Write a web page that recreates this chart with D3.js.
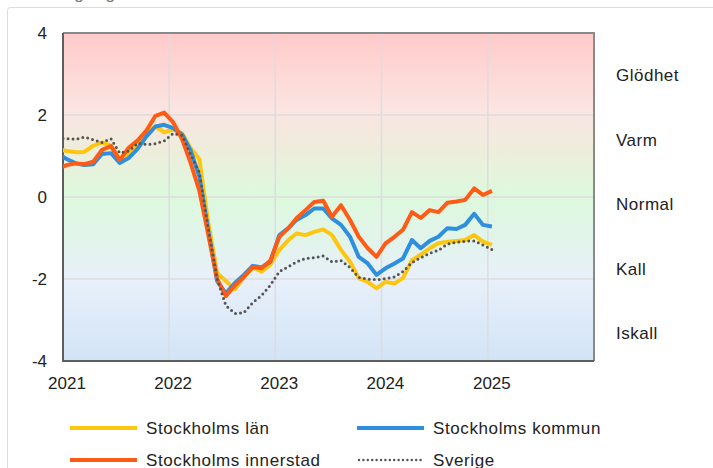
<!DOCTYPE html>
<html lang="sv">
<head>
    <meta charset="UTF-8">
    <title>Stämningsläge</title>
    <script src="https://cdn.jsdelivr.net/npm/d3@7"></script>
    <style>
        body {
            margin: 0;
            background: white;
        }
        text {
            font-family: "Liberation Sans", Arial, sans-serif;
            fill: #222;
        }
    </style>
</head>
<body>
<script>
    const width  = 713;
    const height = 468;

    // Plot area (pixels)
    const plotLeft = 63, plotRight = 594, plotTop = 33, plotBottom = 361;

    // Monthly readings, first value is Dec 2020 (clipped at the axis)
    const firstMonth = new Date(2020, 11, 15);

    const lan = [1.17, 1.12, 1.09, 1.10, 1.25, 1.33, 1.25, 0.92, 1.05, 1.32,
                 1.55, 1.72, 1.58, 1.65, 1.55, 1.20, 0.92, -0.60, -1.85, -2.05,
                 -2.25, -1.95, -1.72, -1.82, -1.65, -1.29, -1.05, -0.89, -0.93, -0.85,
                 -0.79, -0.93, -1.29, -1.58, -1.98, -2.07, -2.23, -2.07, -2.11, -1.98,
                 -1.54, -1.41, -1.25, -1.13, -1.09, -1.07, -1.05, -0.93, -1.09, -1.17];

    const kommun = [1.05, 0.92, 0.82, 0.78, 0.80, 1.05, 1.07, 0.83, 0.95, 1.18,
                    1.48, 1.72, 1.76, 1.68, 1.52, 1.15, 0.50, -0.80, -2.05, -2.35,
                    -2.10, -1.90, -1.68, -1.72, -1.58, -0.93, -0.76, -0.56, -0.44, -0.28,
                    -0.28, -0.52, -0.68, -0.97, -1.46, -1.62, -1.90, -1.74, -1.62, -1.50,
                    -1.05, -1.25, -1.07, -0.97, -0.76, -0.78, -0.68, -0.41, -0.68, -0.72];

    const innerstad = [0.70, 0.78, 0.82, 0.80, 0.86, 1.15, 1.24, 0.90, 1.20, 1.38,
                       1.62, 1.98, 2.06, 1.82, 1.40, 0.85, 0.15, -0.90, -2.00, -2.42,
                       -2.15, -1.95, -1.71, -1.74, -1.55, -0.97, -0.76, -0.52, -0.32, -0.12,
                       -0.09, -0.48, -0.20, -0.56, -0.97, -1.25, -1.46, -1.13, -0.97, -0.80,
                       -0.37, -0.51, -0.32, -0.37, -0.14, -0.11, -0.07, 0.21, 0.05, 0.15];

    const sverige = [1.43, 1.42, 1.41, 1.46, 1.40, 1.33, 1.42, 1.07, 1.12, 1.31,
                     1.28, 1.30, 1.37, 1.55, 1.50, 1.05, 0.60, -0.75, -2.00, -2.65,
                     -2.84, -2.82, -2.58, -2.40, -2.15, -1.82, -1.70, -1.58, -1.50, -1.48,
                     -1.44, -1.58, -1.55, -1.72, -1.96, -2.00, -2.02, -1.99, -1.95, -1.82,
                     -1.60, -1.48, -1.37, -1.30, -1.15, -1.10, -1.08, -1.07, -1.17, -1.28];

    const yTicks = [4, 2, 0, -2, -4];
    const yearTicks = [2021, 2022, 2023, 2024, 2025];
    const moodLabels = ["Glödhet", "Varm", "Normal", "Kall", "Iskall"];

    const series = [
        {name: "Stockholms län",       values: lan,       color: "#ffc610", dotted: false},
        {name: "Stockholms kommun",    values: kommun,    color: "#2e8fde", dotted: false},
        {name: "Stockholms innerstad", values: innerstad, color: "#ff5b14", dotted: false},
        {name: "Sverige",              values: sverige,   color: "#555555", dotted: true}
    ];

    const months = lan.map((d, i) => d3.timeMonth.offset(firstMonth, i));

    const x = d3.scaleTime()
                .domain([new Date(2021, 0, 1), new Date(2026, 0, 1)])
                .range([plotLeft, plotRight]);

    const y = d3.scaleLinear()
                .domain([-4, 4])
                .range([plotBottom, plotTop]);

    const mood = d3.scaleBand()
                   .domain(moodLabels)
                   .range([43, 365]);

    const svg = d3.select("body").append("svg")
                  .attr("width", width).attr("height", height);

    // outer frame (runs off the picture)
    svg.append("rect")
       .attr("x", 7.5).attr("y", 7.5)
       .attr("width", width).attr("height", height)
       .attr("rx", 3)
       .attr("fill", "white")
       .attr("stroke", "#dcdcdc");

    // title, cut off at the top
    svg.append("text")
       .attr("x", 12).attr("y", -1)
       .style("font-size", "17px")
       .style("fill", "#777")
       .text("Stämningsläge");

    const defs = svg.append("defs");

    const grad = defs.append("linearGradient")
                     .attr("id", "bg")
                     .attr("gradientUnits", "userSpaceOnUse")
                     .attr("x1", 0).attr("x2", 0)
                     .attr("y1", plotTop).attr("y2", plotBottom);

    const stops = [[4, "#ffcaca"], [2.1, "#fbe5e2"], [1.1, "#eeeddc"], [0.1, "#ddf9dc"],
                   [-1, "#e1f4ea"], [-2, "#e8f0fa"], [-4, "#d2e4f6"]];
    grad.selectAll("stop")
        .data(stops)
        .join("stop")
          .attr("offset", d => (y(d[0]) - plotTop) / (plotBottom - plotTop))
          .attr("stop-color", d => d[1]);

    defs.append("clipPath").attr("id", "plot")
        .append("rect")
          .attr("x", plotLeft).attr("y", plotTop)
          .attr("width", plotRight - plotLeft).attr("height", plotBottom - plotTop);

    svg.append("rect")
       .attr("x", plotLeft).attr("y", plotTop)
       .attr("width", plotRight - plotLeft).attr("height", plotBottom - plotTop)
       .attr("fill", "url(#bg)");

    // grid lines
    svg.append("g")
       .selectAll("line")
       .data([2, 0, -2])
       .join("line")
         .attr("x1", plotLeft).attr("x2", plotRight)
         .attr("y1", d => y(d)).attr("y2", d => y(d))
         .attr("stroke", "#dddddd")
         .attr("stroke-width", 1.5);

    svg.append("g")
       .selectAll("line")
       .data(yearTicks.slice(1))
       .join("line")
         .attr("x1", d => x(new Date(d, 0, 1))).attr("x2", d => x(new Date(d, 0, 1)))
         .attr("y1", plotTop).attr("y2", plotBottom)
         .attr("stroke", "#dddddd")
         .attr("stroke-width", 1.5);

    // frame: top and right lighter, axes darker
    svg.append("path")
       .attr("d", `M${plotLeft},${plotTop}H${plotRight}V${plotBottom}`)
       .attr("fill", "none")
       .attr("stroke", "#8a8a8a")
       .attr("stroke-width", 2);

    svg.append("path")
       .attr("d", `M${plotLeft},${plotTop}V${plotBottom}H${plotRight}`)
       .attr("fill", "none")
       .attr("stroke", "#5e5e5e")
       .attr("stroke-width", 2);

    // y tick labels
    svg.append("g")
       .selectAll("text")
       .data(yTicks)
       .join("text")
         .attr("x", 47)
         .attr("y", d => y(d))
         .attr("dy", "0.36em")
         .attr("text-anchor", "end")
         .style("font-size", "17px")
         .text(d => d);

    // year labels
    svg.append("g")
       .selectAll("text")
       .data(yearTicks)
       .join("text")
         .attr("x", d => x(new Date(d, 0, 1)) + 4)
         .attr("y", 389)
         .attr("text-anchor", "middle")
         .style("font-size", "17px")
         .text(d => d);

    // mood labels on the right
    svg.append("g")
       .selectAll("text")
       .data(moodLabels)
       .join("text")
         .attr("x", 616)
         .attr("y", d => mood(d) + mood.bandwidth() / 2)
         .attr("dy", "0.36em")
         .style("font-size", "17px")
         .style("letter-spacing", "0.5px")
         .text(d => d);

    const line = d3.line()
                   .x((d, i) => x(months[i]))
                   .y(d => y(d));

    svg.append("g")
       .attr("clip-path", "url(#plot)")
       .selectAll("path")
       .data(series)
       .join("path")
         .attr("d", d => line(d.values))
         .attr("fill", "none")
         .attr("stroke", d => d.color)
         .attr("stroke-width", d => d.dotted ? 3 : 4)
         .attr("stroke-linejoin", "round")
         .attr("stroke-linecap", d => d.dotted ? "round" : "butt")
         .attr("stroke-dasharray", d => d.dotted ? "0,5" : null);

    // legend
    const legend = svg.append("g")
                      .selectAll("g")
                      .data(series)
                      .join("g")
                        .attr("transform", (d, i) =>
                            "translate(" + [i % 2 ? 357 : 70, i < 2 ? 428 : 460] + ")");

    legend.append("line")
          .attr("x1", d => d.dotted ? 2 : 0)
          .attr("x2", 67)
          .attr("stroke", d => d.color)
          .attr("stroke-width", d => d.dotted ? 2.5 : 4)
          .attr("stroke-linecap", d => d.dotted ? "round" : "butt")
          .attr("stroke-dasharray", d => d.dotted ? "0,4.4" : null);

    legend.append("text")
          .attr("x", 76)
          .attr("dy", "0.36em")
          .style("font-size", "17px")
          .style("letter-spacing", "0.6px")
          .text(d => d.name);
</script>
</body>
</html>
